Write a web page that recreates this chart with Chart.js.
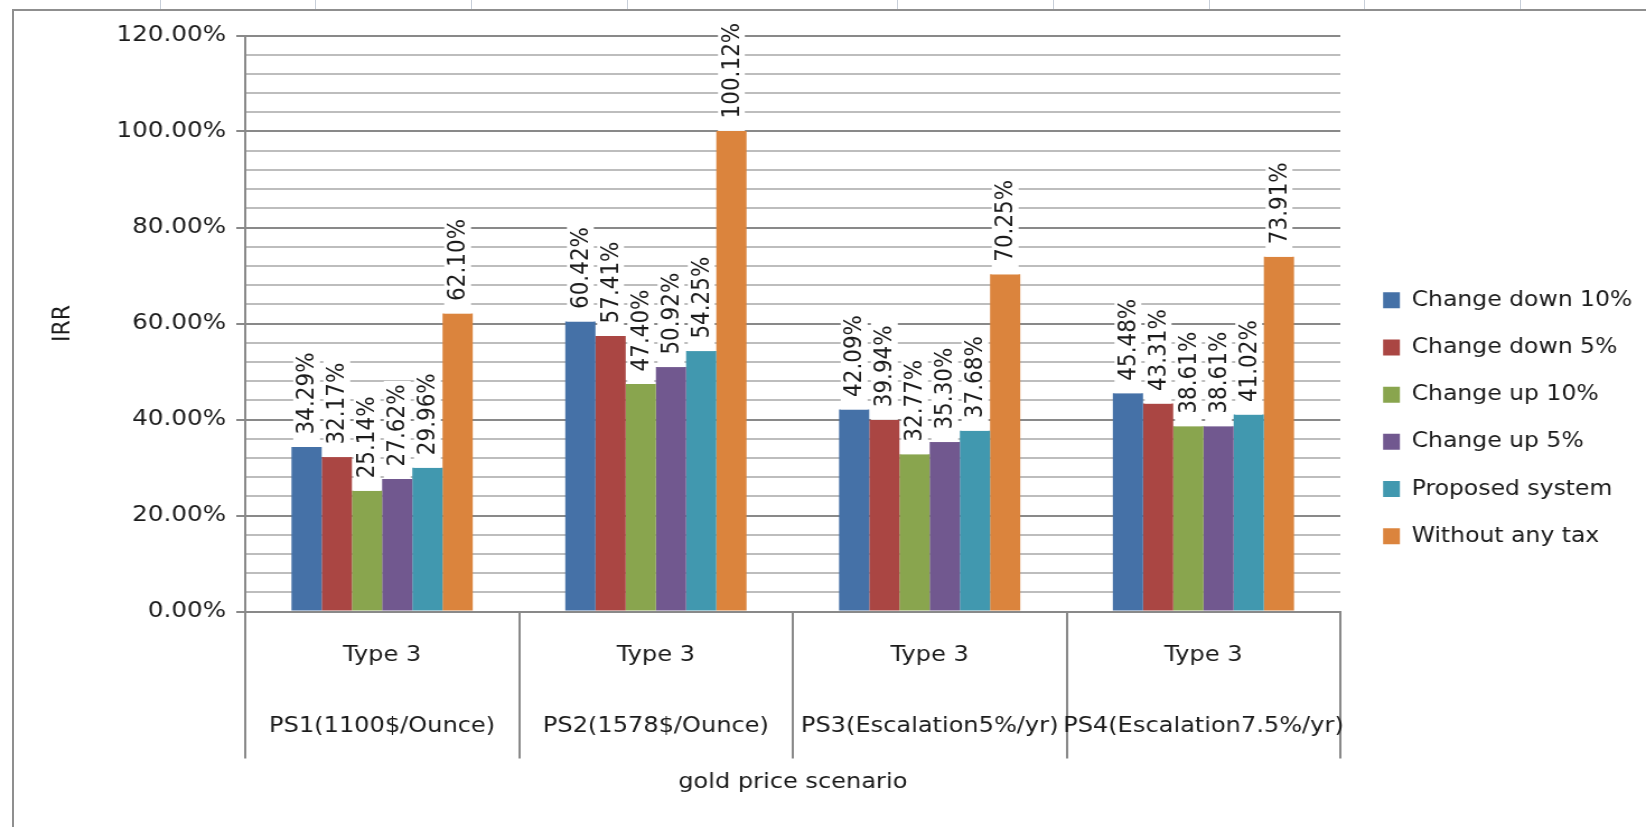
<!DOCTYPE html>
<html>
<head>
<meta charset="utf-8">
<title>IRR by gold price scenario</title>
<script src="https://cdn.jsdelivr.net/npm/chart.js@4.4.1/dist/chart.umd.min.js"></script>
<style>
  html, body { margin: 0; padding: 0; background: #ffffff; overflow: hidden; }
  #wrap { position: relative; width: 1646px; height: 827px; }
  .cell-line { position: absolute; top: 0; width: 1px; height: 9px; background: #c8cfd9; }
  #frame { position: absolute; left: 12px; top: 9px; width: 1700px; height: 900px;
           border-left: 2px solid #8f8f8f; border-top: 2px solid #8f8f8f; }
  #c { position: absolute; left: 0; top: 0; z-index: 1; }
</style>
</head>
<body>
<div id="wrap">
  <div id="frame"></div>
  <!-- laid out 1470 wide, shown 1646 wide: the sheet object is stretched horizontally -->
  <canvas id="c" width="1470" height="827" style="width:1646px;height:827px;"></canvas>
</div>
<script>
// ---- data ----
const typeLabels = ['Type 3', 'Type 3', 'Type 3', 'Type 3'];
const scenarios = ['PS1(1100$/Ounce)', 'PS2(1578$/Ounce)', 'PS3(Escalation5%/yr)', 'PS4(Escalation7.5%/yr)'];

const seriesNames = ['Change down 10%', 'Change down 5%', 'Change up 10%', 'Change up 5%', 'Proposed system', 'Without any tax'];
const changeDown10 = [34.29, 60.42, 42.09, 45.48];
const changeDown5  = [32.17, 57.41, 39.94, 43.31];
const changeUp10   = [25.14, 47.40, 32.77, 38.61];
const changeUp5    = [27.62, 50.92, 35.30, 38.61];
const proposed     = [29.96, 54.25, 37.68, 41.02];
const withoutTax   = [62.10, 100.12, 70.25, 73.91];

const yMin = 0, yMax = 120, yMinorStep = 4, yMajorStep = 20;

// ---- styling ----
const seriesColors = ['#4571a7', '#aa4643', '#89a54e', '#71588f', '#4198af', '#db843d'];
const textColor = '#1b1b1b';
const majorLine = '#898989';
const minorLine = '#bdbdbd';

// sheet column lines peeking above the chart object
[159.5, 315, 471, 626.5, 897, 1052.5, 1209, 1364, 1519.5].forEach(x => {
  const d = document.createElement('div');
  d.className = 'cell-line';
  d.style.left = x + 'px';
  document.getElementById('wrap').appendChild(d);
});

Chart.defaults.font.family = '"DejaVu Sans", sans-serif';
Chart.defaults.color = textColor;

const seriesValues = [changeDown10, changeDown5, changeUp10, changeUp5, proposed, withoutTax];

// rotated value labels on a white box sitting on top of each bar
const valueLabels = {
  id: 'valueLabels',
  afterDatasetsDraw(chart) {
    const ctx = chart.ctx;
    ctx.save();
    ctx.font = '21.5px "DejaVu Sans"';
    ctx.textBaseline = 'middle';
    ctx.textAlign = 'left';
    chart.data.datasets.forEach((ds, i) => {
      const meta = chart.getDatasetMeta(i);
      if (meta.hidden) return;
      meta.data.forEach((bar, j) => {
        const text = ds.data[j].toFixed(2) + '%';
        const w = ctx.measureText(text).width;
        ctx.save();
        ctx.translate(bar.x, bar.y);
        ctx.rotate(-Math.PI / 2);
        ctx.fillStyle = '#ffffff';
        ctx.fillRect(0, -12, w + 16, 24);
        ctx.fillStyle = textColor;
        ctx.fillText(text, 12.5, 1);
        ctx.restore();
      });
    });
    ctx.restore();
  }
};

const isMajor = v => v % yMajorStep === 0;

new Chart(document.getElementById('c'), {
  type: 'bar',
  data: {
    labels: scenarios.map((s, i) => [typeLabels[i], '', s]),
    datasets: seriesNames.map((name, i) => ({
      label: name,
      data: seriesValues[i],
      backgroundColor: seriesColors[i],
      borderWidth: 0,
      categoryPercentage: 0.662,
      barPercentage: 1.0
    }))
  },
  options: {
    responsive: false,
    devicePixelRatio: 1,
    animation: false,
    events: [],
    layout: { padding: { top: 35.5, bottom: 32, left: 20, right: 9 } },
    scales: {
      x: {
        type: 'category',
        offset: true,
        grid: {
          display: true,
          offset: true,
          drawOnChartArea: false,
          drawTicks: true,
          tickLength: 147,
          color: majorLine,
          lineWidth: 2
        },
        border: { display: true, color: majorLine, width: 2 },
        ticks: {
          padding: -121,
          autoSkip: false,
          maxRotation: 0,
          minRotation: 0,
          color: textColor,
          font: { size: 21.5, lineHeight: 35.5 / 21.5 }
        },
        title: {
          display: true,
          text: 'gold price scenario',
          color: textColor,
          font: { size: 21.5 },
          padding: { top: 25, bottom: 0 }
        },
        afterFit(s) { s.height = 183.5; }
      },
      y: {
        type: 'linear',
        position: 'left',
        min: yMin,
        max: yMax,
        grid: {
          color: c => isMajor(c.tick.value) ? majorLine : minorLine,
          tickColor: c => isMajor(c.tick.value) ? majorLine : 'rgba(0,0,0,0)',
          lineWidth: 2,
          tickLength: 8,
          drawTicks: true
        },
        border: { display: true, color: majorLine, width: 2 },
        ticks: {
          stepSize: yMinorStep,
          autoSkip: false,
          padding: 9,
          color: textColor,
          font: { size: 22 },
          callback: v => isMajor(v) ? v.toFixed(2) + '%' : ''
        },
        title: {
          display: true,
          text: 'IRR',
          color: textColor,
          font: { size: 22 },
          padding: { top: 23, bottom: 0 }
        },
        afterFit(s) { s.width = 199; }
      },
      gap: {
        type: 'linear',
        position: 'right',
        display: true,
        grid: { display: false },
        border: { display: false },
        ticks: { display: false },
        afterFit(s) { s.width = 12; }
      }
    },
    plugins: {
      tooltip: { enabled: false },
      legend: {
        position: 'right',
        align: 'center',
        maxWidth: 252,
        title: { display: true, text: '', font: { size: 1 }, padding: { top: 4.8, bottom: 0 } },
        labels: {
          boxWidth: 15,
          boxHeight: 16,
          padding: 26.2,
          color: textColor,
          font: { size: 21 }
        }
      }
    }
  },
  plugins: [valueLabels]
});
</script>
</body>
</html>
